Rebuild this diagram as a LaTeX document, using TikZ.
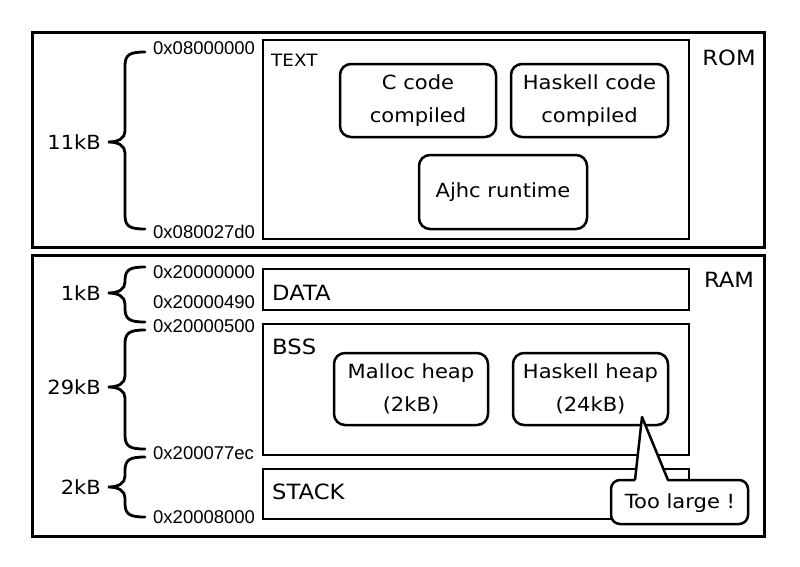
\documentclass[tikz,border=0pt]{standalone}
\usepackage{fontspec}
\setmainfont[FakeStretch=1.08]{DejaVu Sans}
\newfontfamily\addrfont{Liberation Sans}
\newcommand\membrace[3]{% top, middle, bottom
  \draw[bracestyle] (145,#1) .. controls (129,#1) and (125,#1+3) .. (125,#1+14)
    -- (125,#2-11) .. controls (125,#2-4) and (119,#2) .. (108,#2)
    .. controls (119,#2) and (125,#2+4) .. (125,#2+11)
    -- (125,#3-14) .. controls (125,#3-3) and (129,#3) .. (145,#3);}
\begin{document}
\begin{tikzpicture}[x=1pt,y=-1pt,
  region/.style={draw, line width=3pt, inner sep=0pt},
  part/.style={draw, line width=2.8pt, inner sep=0pt},
  blob/.style={draw, line width=2.5pt, rounded corners=11pt, inner sep=0pt, align=center,
    font=\fontsize{19.5}{33}\selectfont},
  seclabel/.style={anchor=west, inner sep=0pt, font=\fontsize{21}{24}\selectfont},
  addr/.style={anchor=west, inner sep=0pt, font=\addrfont\fontsize{18.5}{22}\selectfont},
  sizelabel/.style={anchor=east, inner sep=0pt, font=\fontsize{19.5}{22}\selectfont},
  memlabel/.style={anchor=center, inner sep=0pt, font=\fontsize{21}{24}\selectfont},
  bracestyle/.style={line width=2.8pt, line cap=round}
]
\useasboundingbox[fill=white] (0,0) rectangle (800,566);

% ROM
\node[region, minimum width=732pt, minimum height=215pt] (rom) at (398,139.5) {};
\node[memlabel] (romlbl) at (729,58) {ROM};
\node[part, minimum width=426pt, minimum height=199pt] (textsec) at (476,139.5) {};
\node[seclabel, font=\fontsize{17}{20}\selectfont] (textlbl) at (271,60) {TEXT};
\node[blob, minimum width=156pt, minimum height=73pt] (ccode) at (418,100.5) {C code\\compiled};
\node[blob, minimum width=157pt, minimum height=73pt] (hcode) at (589.5,100.5) {Haskell code\\compiled};
\node[blob, minimum width=168pt, minimum height=74pt] (ajhc) at (503,192) {Ajhc runtime};

\node[addr] (a1) at (153,48) {0x08000000};
\node[addr] (a2) at (153,232) {0x080027d0};
\membrace{52}{142}{229}
\node[sizelabel] (s1) at (101,142) {11kB};

% RAM
\node[region, minimum width=732pt, minimum height=281pt] (ram) at (398,395.5) {};
\node[memlabel] (ramlbl) at (729,280) {RAM};
\node[part, minimum width=426pt, minimum height=41pt] (data) at (476,289.5) {};
\node[seclabel] (datalbl) at (272,293) {DATA};
\node[part, minimum width=426pt, minimum height=131pt] (bss) at (476,389.5) {};
\node[seclabel] (bsslbl) at (272,347) {BSS};
\node[blob, minimum width=154pt, minimum height=72pt] (malloc) at (411,389) {Malloc heap\\(2kB)};
\node[blob, minimum width=155pt, minimum height=72pt] (hheap) at (590.5,389) {Haskell heap\\(24kB)};
\node[part, minimum width=426pt, minimum height=50pt] (stack) at (476,494) {};
\node[seclabel] (stacklbl) at (272,492) {STACK};

\node[addr] (r1) at (153,272) {0x20000000};
\node[addr] (r2) at (153,302) {0x20000490};
\node[addr] (r3) at (153,326) {0x20000500};
\node[addr] (r4) at (153,453) {0x200077ec};
\node[addr] (r5) at (153,517) {0x20008000};

\membrace{267}{293}{322}
\node[sizelabel] (s2) at (101,293) {1kB};
\membrace{330}{387}{449}
\node[sizelabel] (s3) at (101,387) {29kB};
\membrace{457}{487}{517}
\node[sizelabel] (s4) at (101,487) {2kB};

% callout
\coordinate (tip) at (642,417);
\coordinate (bl) at (635,480);
\coordinate (br) at (668,480);
\filldraw[fill=white, line width=2.5pt, line join=round]
  (bl) -- (tip) -- (br) [rounded corners=9pt] -- (748,480) -- (748,524) -- (611,524) -- (611,480) [sharp corners] -- (bl);
\node[inner sep=0pt, font=\fontsize{19.5}{22}\selectfont] (toolarge) at (680,503) {Too large !};
\end{tikzpicture}
\end{document}
